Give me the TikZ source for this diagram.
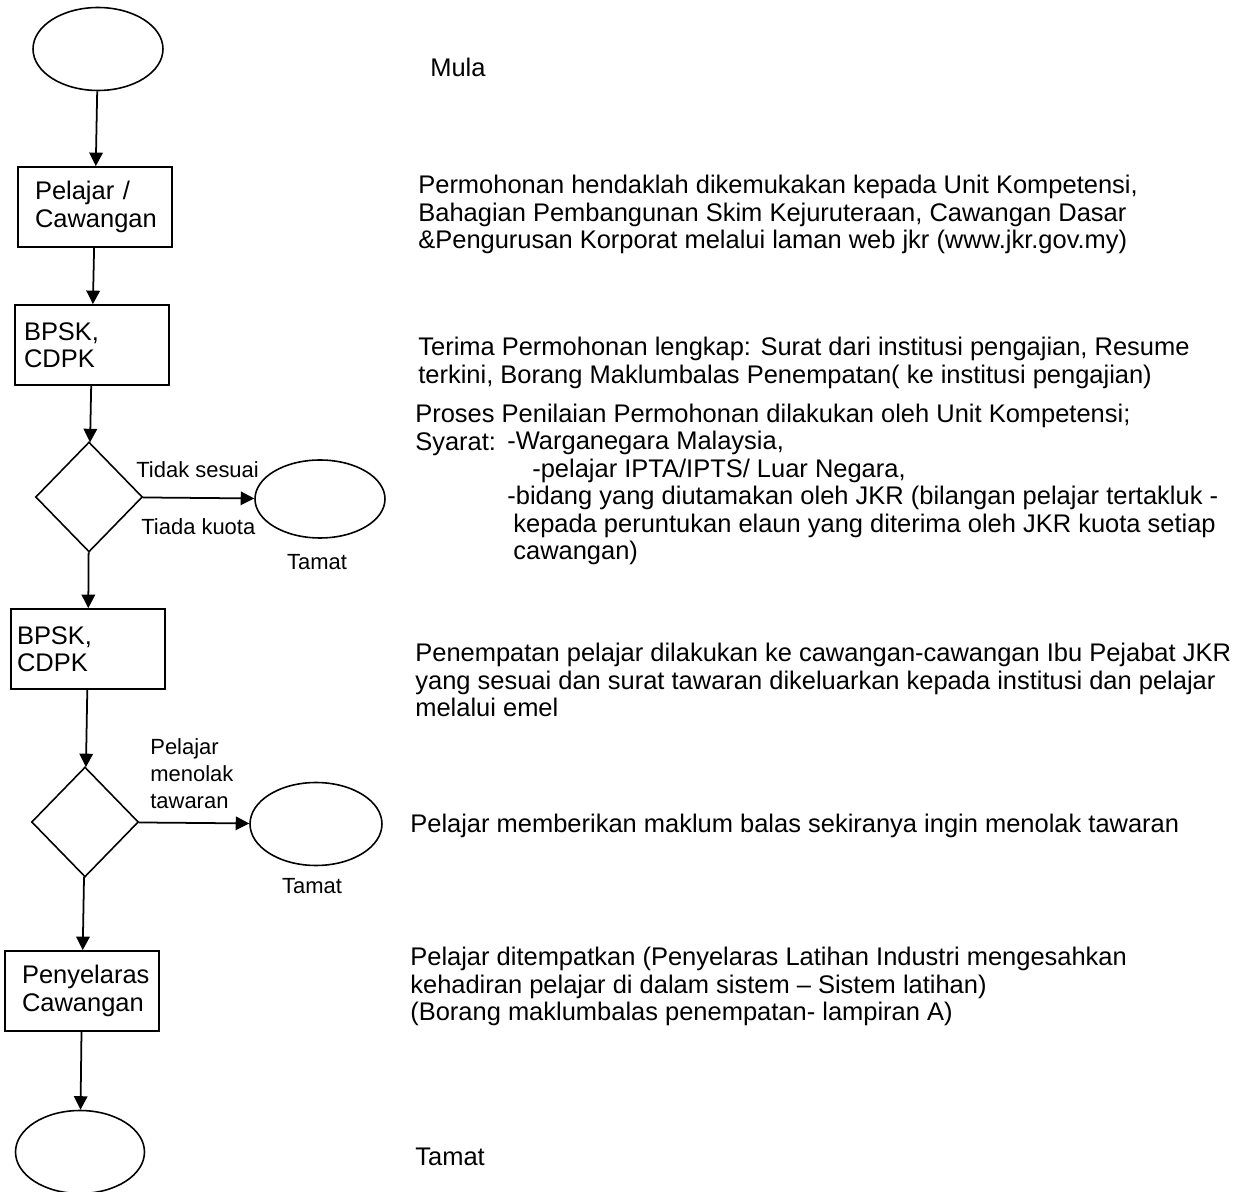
\documentclass[tikz,border=0pt]{standalone}
\usepackage{fontspec}
\setmainfont{Liberation Sans}
\usetikzlibrary{shapes.geometric,arrows.meta}

\begin{document}
\begin{tikzpicture}[x=0.02cm,y=-0.02cm,
    font=\fontsize{14.5}{15.6}\selectfont,
    box/.style={draw,line width=1pt,minimum width=3.08cm,minimum height=1.6cm,
      align=left,inner ysep=2pt},
    term/.style={draw,ellipse,line width=0.9pt,minimum width=2.6cm,
      minimum height=1.66cm,inner sep=0pt},
    decide/.style={draw,diamond,line width=0.9pt,minimum width=2.14cm,
      minimum height=2.2cm,inner sep=0pt},
    flow/.style={line width=1pt,-{Triangle[length=0.27cm,width=0.27cm]}},
    lbl/.style={font=\fontsize{12.5}{15.6}\selectfont,inner sep=0pt},
    note/.style={anchor=north west,align=left,inner sep=0pt}]

      \useasboundingbox (0,0) rectangle (1242,1192);

      % Flow chart (left column)
      \node[term] (mula) at (98,49) {};
      \node[box,inner xsep=0.34cm,text width=2.4cm] (pelajar) at (95,207) {Pelajar /\\Cawangan};
      \node[box,inner xsep=0.18cm,text width=2.72cm] (bpsk1) at (92,345) {BPSK,\\CDPK};
      \node[decide] (semak) at (89,497) {};
      \node[term,minimum height=1.56cm] (tamat1) at (320,499) {};
      \node[box,inner xsep=0.12cm,text width=2.84cm] (bpsk2) at (88,649) {BPSK,\\CDPK};
      \node[decide] (tawar) at (85,822) {};
      \node[term,minimum width=2.64cm] (tamat2) at (316,824) {};
      \node[box,inner xsep=0.34cm,text width=2.4cm] (selaras) at (82,991) {Penyelaras\\Cawangan};
      \node[term,minimum width=2.58cm] (tamat3) at (80,1152) {};

      % Connectors
      \draw[flow] (mula) -- (pelajar);
      \draw[flow] (pelajar) -- (bpsk1);
      \draw[flow] (bpsk1) -- (semak);
      \draw[flow] (semak) -- (tamat1);
      \draw[flow] (semak) -- (bpsk2);
      \draw[flow] (bpsk2) -- (tawar);
      \draw[flow] (tawar) -- (tamat2);
      \draw[flow] (tawar) -- (selaras);
      \draw[flow] (selaras) -- (tamat3);

      % Branch labels
      \node[lbl,anchor=west] (tidak) at (136,470) {Tidak sesuai};
      \node[lbl,anchor=west] (kuota) at (141,527) {Tiada kuota};
      \node[lbl] (t1) at (317,562) {Tamat};
      \node[lbl,anchor=north west,align=left,
        font=\fontsize{12.5}{15.4}\selectfont] (tolak) at (150,738) {Pelajar\\menolak\\tawaran};
      \node[lbl] (t2) at (312,886) {Tamat};

      % Notes (right column)
      \node[anchor=base west,inner sep=0pt] (n0) at (430,77) {Mula};
      \node[note] (n1) at (418,175) {Permohonan hendaklah dikemukakan kepada Unit Kompetensi,\\
        Bahagian Pembangunan Skim Kejuruteraan, Cawangan Dasar\\
        \&Pengurusan Korporat melalui laman web jkr (www.jkr.gov.my)};
      \node[note] (n2) at (418,337) {Terima Permohonan lengkap: Surat dari institusi pengajian, Resume\\
        terkini, Borang Maklumbalas Penempatan( ke institusi pengajian)};
      \node[note] (n3) at (415,404) {Proses Penilaian Permohonan dilakukan oleh Unit Kompetensi;\\
        Syarat:};
      \node[note] (n3a) at (507,431) {-Warganegara Malaysia,\\
        \hspace{0.5cm}-pelajar IPTA/IPTS/ Luar Negara,\\
        -bidang yang diutamakan oleh JKR (bilangan pelajar tertakluk -\\
        \hspace{0.12cm}kepada peruntukan elaun yang diterima oleh JKR kuota setiap\\
        \hspace{0.12cm}cawangan)};
      \node[note] (n4) at (415,643) {Penempatan pelajar dilakukan ke cawangan-cawangan Ibu Pejabat JKR\\
        yang sesuai dan surat tawaran dikeluarkan kepada institusi dan pelajar\\
        melalui emel};
      \node[anchor=base west,inner sep=0pt] (n5) at (410,833) {Pelajar memberikan maklum balas sekiranya ingin menolak tawaran};
      \node[note] (n6) at (410,947) {Pelajar ditempatkan (Penyelaras Latihan Industri mengesahkan\\
        kehadiran pelajar di dalam sistem -- Sistem latihan)\\
        (Borang maklumbalas penempatan- lampiran A)};
      \node[anchor=base west,inner sep=0pt] (n7) at (415,1165) {Tamat};

\end{tikzpicture}
\end{document}
